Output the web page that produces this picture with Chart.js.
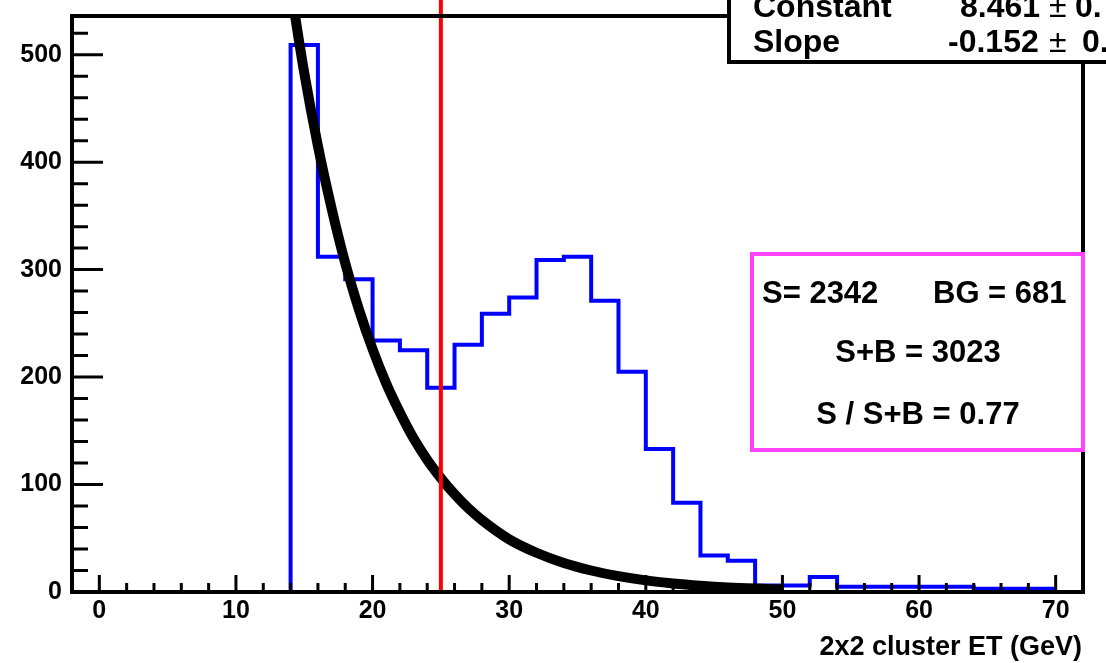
<!DOCTYPE html>
<html>
<head>
<meta charset="utf-8">
<script src="https://cdn.jsdelivr.net/npm/chart.js@4.4.1/dist/chart.umd.min.js"></script>
<style>
  html, body { margin: 0; padding: 0; background: #fff; }
  #wrap { width: 1106px; height: 663px; }
</style>
</head>
<body>
<div id="wrap"><canvas id="chartET"></canvas></div>
<script>
// histogram: lower bin edges (GeV) and counts, bin width 2
const binLow = [0, 2, 4, 6, 8, 10, 12, 14, 16, 18, 20, 22, 24, 26, 28, 30, 32, 34,
                36, 38, 40, 42, 44, 46, 48, 50, 52, 54, 56, 58, 60, 62, 64, 66, 68];
const counts = [0, 0, 0, 0, 0, 0, 0, 509, 312, 291, 234, 225, 190, 230, 259, 274, 309, 312,
                271, 205, 133, 83, 34, 29, 6, 6, 14, 5, 5, 5, 5, 5, 3, 3, 3];
const histEnd = 70;

// exponential background fit
const fitX = [14, 15, 16, 17, 18, 19, 20, 21, 22, 23, 24, 25, 26, 27, 28, 30, 32, 34, 36, 38, 40, 42, 44, 46, 48, 50];
const fitY = [563, 483, 415, 357, 306, 263, 226, 194, 167, 143, 123, 106, 91, 78, 67, 49, 36.5, 27, 20, 14.7, 10.8, 8, 5.9, 4.3, 3.2, 2.4];

const cutET = 25;
const xTicks = [0, 10, 20, 30, 40, 50, 60, 70];
const yTicks = [0, 100, 200, 300, 400, 500];
const fitParams = [["Constant", "8.461"], ["Slope", "-0.152"]];
const boxLines = ["S= 2342", "BG = 681", "S+B = 3023", "S / S+B = 0.77"];

const FONT = '"Liberation Sans", Arial, Helvetica, sans-serif';

const histPoints = binLow.map((x, i) => ({ x: x, y: counts[i] }));
histPoints.push({ x: histEnd, y: counts[counts.length - 1] });
const fitPoints = fitX.map((x, i) => ({ x: x, y: fitY[i] }));

const rootStyle = {
    id: "rootStyle",
    afterDatasetsDraw(chart) {
        const ctx = chart.ctx;
        const a = chart.chartArea;
        const xs = chart.scales.x, ys = chart.scales.y;
        ctx.save();

        // cut line
        const xc = xs.getPixelForValue(cutET);
        ctx.strokeStyle = "#ff0000";
        ctx.lineWidth = 4;
        ctx.beginPath();
        ctx.moveTo(xc, 0);
        ctx.lineTo(xc, ys.getPixelForValue(0));
        ctx.stroke();

        // frame
        ctx.strokeStyle = "#000";
        ctx.lineWidth = 4;
        ctx.strokeRect(a.left, a.top, a.right - a.left, a.bottom - a.top);

        // x ticks (inside, pointing up)
        ctx.lineWidth = 3;
        ctx.beginPath();
        for (let v = 0; v <= 70; v += 2) {
            const px = xs.getPixelForValue(v);
            const len = v % 10 === 0 ? 17 : 9;
            ctx.moveTo(px, a.bottom);
            ctx.lineTo(px, a.bottom - len);
        }
        // y ticks (inside, pointing right)
        for (let v = 0; v <= 520; v += 20) {
            const py = ys.getPixelForValue(v);
            if (py < a.top) continue;
            const len = v % 100 === 0 ? 31 : 16;
            ctx.moveTo(a.left, py);
            ctx.lineTo(a.left + len, py);
        }
        ctx.stroke();

        // S / B box
        ctx.strokeStyle = "#ff44ff";
        ctx.lineWidth = 4;
        ctx.fillStyle = "#fff";
        ctx.fillRect(752, 254, a.right - 752, 196);
        ctx.strokeRect(752, 254, a.right - 752, 196);
        ctx.fillStyle = "#000";
        ctx.font = "bold 31px " + FONT;
        ctx.textBaseline = "middle";
        ctx.textAlign = "left";
        ctx.fillText(boxLines[0], 762, 294);
        ctx.fillText(boxLines[1], 933, 294);
        ctx.textAlign = "center";
        ctx.fillText(boxLines[2], 918, 353);
        ctx.fillText(boxLines[3], 918, 415);

        // fit stats box (clipped by the canvas edge)
        ctx.fillStyle = "#fff";
        ctx.fillRect(729, -10, 400, 72);
        ctx.strokeStyle = "#000";
        ctx.lineWidth = 4;
        ctx.strokeRect(729, -10, 400, 72);
        ctx.fillStyle = "#000";
        ctx.textBaseline = "alphabetic";
        ctx.textAlign = "left";
        const rows = [17, 52];
        const valX = [960, 948];
        const errX = [1075, 1082];
        fitParams.forEach((p, i) => {
            ctx.font = "bold 32px " + FONT;
            ctx.fillText(p[0], 753, rows[i]);
            ctx.fillText(p[1], valX[i], rows[i]);
            ctx.font = "32px " + FONT;
            ctx.fillText("\u00b1", 1049, rows[i]);
            ctx.font = "bold 32px " + FONT;
            ctx.fillText("0.", errX[i], rows[i]);
        });

        // x axis title
        ctx.font = "bold 27px " + FONT;
        ctx.textAlign = "right";
        ctx.fillText("2x2 cluster ET (GeV)", 1082, 655);

        ctx.restore();
    }
};

new Chart(document.getElementById("chartET"), {
    type: "line",
    data: {
        datasets: [
            {
                label: "fit",
                data: fitPoints,
                borderColor: "#000",
                borderWidth: 10,
                borderCapStyle: "butt",
                pointRadius: 0,
                cubicInterpolationMode: "monotone",
                fill: false,
                clip: 0
            },
            {
                label: "hist",
                data: histPoints,
                borderColor: "#0000ff",
                borderWidth: 4,
                pointRadius: 0,
                stepped: "before",
                fill: false,
                clip: 0
            }
        ]
    },
    options: {
        responsive: true,
        maintainAspectRatio: false,
        animation: false,
        events: [],
        layout: { padding: { top: 16, right: 23, left: 0, bottom: 0 } },
        plugins: { legend: { display: false }, tooltip: { enabled: false } },
        scales: {
            x: {
                type: "linear",
                min: -2,
                max: 72,
                grid: { display: false, drawTicks: false },
                border: { display: false },
                afterBuildTicks: s => { s.ticks = xTicks.map(v => ({ value: v })); },
                afterFit: s => { s.height = 71; s.paddingLeft = 0; s.paddingRight = 0; },
                ticks: {
                    padding: 4,
                    color: "#000",
                    maxRotation: 0,
                    font: { family: FONT, size: 25, weight: "bold" }
                }
            },
            y: {
                min: 0,
                max: 536,
                grid: { display: false, drawTicks: false },
                border: { display: false },
                afterBuildTicks: s => { s.ticks = yTicks.map(v => ({ value: v })); },
                afterFit: s => { s.width = 72; s.paddingTop = 0; s.paddingBottom = 0; },
                ticks: {
                    padding: 10,
                    color: "#000",
                    font: { family: FONT, size: 25, weight: "bold" }
                }
            }
        }
    },
    plugins: [rootStyle]
});
</script>
</body>
</html>
